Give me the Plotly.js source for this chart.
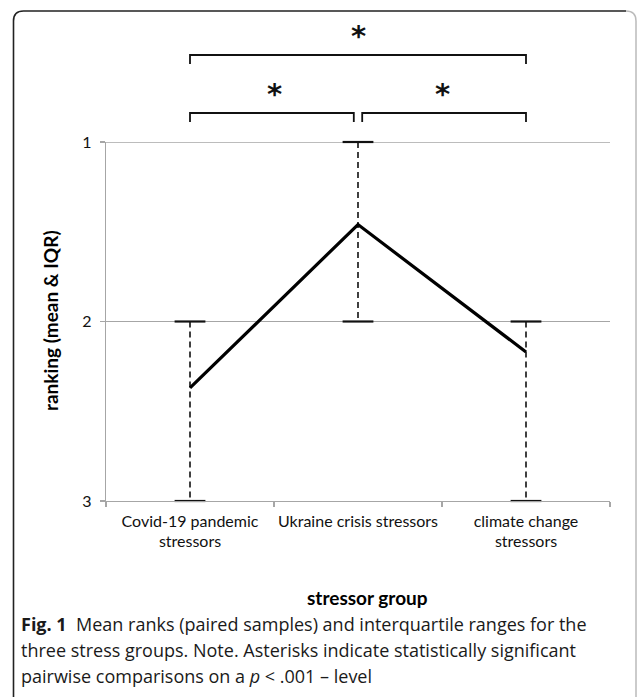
<!DOCTYPE html>
<html>
<head>
<meta charset="utf-8">
<script src="https://cdn.plot.ly/plotly-3.0.1.min.js"></script>
<style>
html,body{margin:0;padding:0;background:#fff;}
#chart{width:637px;height:697px;}
</style>
</head>
<body>
<div id="chart"></div>
<script>
// ---- data ----
var categories = ["Covid-19 pandemic<br>stressors", "Ukraine crisis stressors", "climate change<br>stressors"];
var meanRank = [2.37, 1.46, 2.17];
var iqrLow = [2, 1, 2];
var iqrHigh = [3, 2, 3];
var yTicks = [1, 2, 3];
var comparisons = [[0, 1], [1, 2], [0, 2]]; // significant pairs (p < .001)

// ---- layout geometry (pixels) ----
var W = 637, H = 697;
var L = 106, R = 610, T = 142, B = 501;
function px(x) { return (x - L) / (R - L); }
function py(y) { return (B - y) / (B - T); }

var chartFont = "Lato, 'Open Sans', sans-serif";
var capFont = "'Open Sans', 'Noto Sans', sans-serif";

var traces = [];
for (var i = 0; i < categories.length; i++) {
  traces.push({
    type: "scatter",
    x: [categories[i], categories[i]],
    y: [iqrLow[i], iqrHigh[i]],
    mode: "lines+markers",
    line: { color: "#111", width: 1.6, dash: "6px,4px" },
    marker: { symbol: "line-ew", size: 22, color: "#111", line: { color: "#111", width: 2.2 } },
    hoverinfo: "skip",
    showlegend: false,
    cliponaxis: false
  });
}
traces.push({
  type: "scatter",
  x: categories,
  y: meanRank,
  mode: "lines",
  line: { color: "#000", width: 3.2 },
  showlegend: false,
  cliponaxis: false
});

var shapes = [];
var annotations = [];

// brackets
function bracket(x0, x1, yTopPx, drop) {
  var yt = py(yTopPx), yb = py(yTopPx + drop);
  shapes.push({
    type: "path", xref: "x", yref: "paper",
    path: "M " + x0 + "," + yb + " L " + x0 + "," + yt +
          " L " + x1 + "," + yt + " L " + x1 + "," + yb,
    line: { color: "#111", width: 1.8 }
  });
}
var starFont = { family: "'DejaVu Sans', sans-serif", size: 29, color: "#111" };
var lowerY = 113, upperY = 55;
comparisons.forEach(function (c) {
  var a = c[0], b = c[1];
  var x0, x1;
  if (b - a === 1) {
    x0 = a === 0 ? a : a + 0.025;
    x1 = b === 2 ? b : b - 0.025;
    bracket(x0, x1, lowerY, 9);
    annotations.push({ x: (a + b) / 2, y: py(94), xref: "x", yref: "paper", text: "<b>*</b>", showarrow: false,
      font: starFont, yanchor: "middle" });
  } else {
    bracket(a, b, upperY, 9);
    annotations.push({ x: (a + b) / 2, y: py(36), xref: "x", yref: "paper", text: "<b>*</b>", showarrow: false,
      font: starFont, yanchor: "middle" });
  }
});

// top gridline (y = 1) explicitly
shapes.push({ type: "line", xref: "paper", yref: "y", x0: 0, x1: 1, y0: 1, y1: 1, line: { color: "#a6a6a6", width: 1.3 }, layer: "below" });

// border box with rounded corners
var rx = 10 / (R - L), ry = 10 / (B - T);
var bl = px(13.5), bt = py(11), br = px(636), bb = py(702);
shapes.push({
  type: "path", xref: "paper", yref: "paper",
  path: "M " + bl + "," + bb + " L " + bl + "," + (bt - ry) + " Q " + bl + "," + bt + " " + (bl + rx) + "," + bt +
        " L " + (br - rx) + "," + bt,
  line: { color: "#222", width: 1.6 }
});
shapes.push({
  type: "path", xref: "paper", yref: "paper",
  path: "M " + (br - rx) + "," + bt + " Q " + br + "," + bt + " " + br + "," + (bt - ry) + " L " + br + "," + bb,
  line: { color: "#bbb", width: 1.5 }
});

// axis titles
annotations.push({ xref: "paper", yref: "paper", x: px(50), y: py(321), text: "<b>ranking (mean &amp; IQR)</b>",
  textangle: -90, showarrow: false, font: { family: chartFont, size: 19, color: "#000" }, xanchor: "center", yanchor: "middle" });
annotations.push({ xref: "paper", yref: "paper", x: px(367), y: py(597), text: "<b>stressor group</b>",
  showarrow: false, font: { family: chartFont, size: 19, color: "#000" }, xanchor: "center", yanchor: "middle" });

// caption
var captionLines = [
  "<b>Fig. 1</b>  Mean ranks (paired samples) and interquartile ranges for the",
  "three stress groups. Note. Asterisks indicate statistically significant",
  "pairwise comparisons on a <i>p</i> &lt; .001 – level"
];
var capY = [624, 650, 676];
captionLines.forEach(function (t, k) {
  annotations.push({ xref: "paper", yref: "paper", x: px(19), y: py(capY[k]), text: t, showarrow: false,
    xanchor: "left", yanchor: "middle", font: { family: capFont, size: 18, color: "#1a1a1a" } });
});

var layout = {
  width: W, height: H,
  margin: { l: L, r: W - R, t: T, b: H - B, pad: 0 },
  paper_bgcolor: "#fff", plot_bgcolor: "#fff",
  showlegend: false,
  font: { family: chartFont, size: 16, color: "#111" },
  xaxis: {
    type: "category",
    range: [-0.5, 2.5],
    showgrid: false,
    showline: true, linecolor: "#a6a6a6", linewidth: 1.3,
    ticks: "outside", tickson: "boundaries", ticklen: 5, tickcolor: "#a6a6a6", tickwidth: 1.3,
    tickangle: 0,
    tickfont: { family: chartFont, size: 16, color: "#111" },
    ticklabelstandoff: 5,
    zeroline: false, fixedrange: true
  },
  yaxis: {
    range: [3, 1],
    tickvals: yTicks,
    ticktext: yTicks.map(String),
    showgrid: true, gridcolor: "#a6a6a6", gridwidth: 1.3,
    showline: true, linecolor: "#a6a6a6", linewidth: 1.3,
    ticks: "outside", ticklen: 5, tickcolor: "#a6a6a6", tickwidth: 1.3,
    tickfont: { family: chartFont, size: 16, color: "#111" },
    ticklabelstandoff: 5,
    zeroline: false, fixedrange: true
  },
  shapes: shapes,
  annotations: annotations
};

Plotly.newPlot("chart", traces, layout, { displayModeBar: false, staticPlot: true });
</script>
</body>
</html>
